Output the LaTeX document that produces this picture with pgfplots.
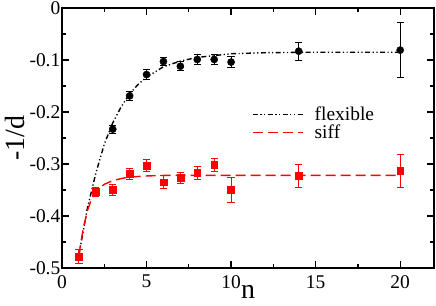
\documentclass[border=0pt]{standalone}
\usepackage{fontspec}
\setmainfont{Liberation Serif}
\usepackage{pgfplots}
\pgfplotsset{compat=1.18}
\begin{document}
\begin{tikzpicture}
\begin{axis}[
  scale only axis, width=372bp, height=260bp,
  xmin=0, xmax=22, ymin=-0.5, ymax=0,
  xtick={0,5,10,15,20}, minor x tick num=1,
  ytick={-0.5,-0.4,-0.3,-0.2,-0.1,0}, minor y tick num=1,
  tick align=inside, major tick length=7bp, minor tick length=4bp,
  axis line style={line width=1.5bp},
  tick style={black, line width=1.2bp},
  /pgf/number format/assume math mode=true,
  ticklabel style={font=\fontsize{19.5}{22}\selectfont},
  yticklabel style={inner sep=1.5bp},
  xticklabel style={inner sep=0bp, anchor=north, yshift=-7bp},
  xlabel={n}, ylabel={-1/d},
  xlabel style={at={(axis description cs:0.5,-0.119)}, anchor=base, inner sep=0bp, font=\fontsize{28}{30}\selectfont},
  ylabel style={at={(axis description cs:-0.0995,0.5)}, anchor=base, font=\fontsize{28}{30}\selectfont},
  legend image code/.code={\draw[#1] (0bp,0bp) -- (50bp,0bp); \path (61bp,0bp);},
  legend style={at={(rel axis cs:0.511,0.617)}, anchor=north west, draw=none, fill=none, inner sep=0bp,
    font=\fontsize{19.5}{22}\selectfont, row sep=5bp,
    nodes={inner sep=0bp, text height=13bp, text depth=0bp}},
  legend cell align=left,
  clip=false,
]
\coordinate (bl) at (rel axis cs:0,0);
\coordinate (tr) at (rel axis cs:1,1);
% fitted curves
\addplot[black, line width=1.4bp, dash pattern=on 5bp off 2.5bp on 1.2bp off 2.5bp on 1.2bp off 2.5bp] coordinates {
 (1,-0.475) (1.5,-0.385) (2,-0.318) (2.5,-0.262) (3,-0.221) (3.5,-0.190) (4,-0.165)
 (4.5,-0.147) (5,-0.133) (6,-0.113) (7,-0.102) (8,-0.095) (10,-0.088) (12,-0.086) (15,-0.085) (20,-0.085)};
\addlegendentry{flexible}
\addplot[red, line width=1.4bp, dash pattern=on 10bp off 5bp] coordinates {
 (1,-0.475) (1.25,-0.425) (1.5,-0.390) (1.75,-0.367) (2,-0.352) (2.5,-0.339) (3,-0.332)
 (3.5,-0.328) (4,-0.325) (5,-0.323) (6,-0.322) (10,-0.322) (20,-0.322)};
\addlegendentry{siff}
% data
\addplot[forget plot, black, only marks, mark=*, mark size=3.6bp,
  error bars/.cd, y dir=both, y explicit,
  error bar style={line width=1bp, black},
  error mark options={rotate=90, mark size=3.6bp, line width=1bp, black}]
 table[x=n, y=y, y error=e] {
 n y e
 3 -0.233 0.008
 4 -0.169 0.008
 5 -0.128 0.009
 6 -0.103 0.008
 7 -0.112 0.009
 8 -0.099 0.010
 9 -0.099 0.010
 10 -0.104 0.010
 14 -0.083 0.017
 20 -0.081 0.053
 };
\addplot[forget plot, red, only marks, mark=square*, mark size=3.4bp,
  error bars/.cd, y dir=both, y explicit,
  error bar style={line width=1bp, red},
  error mark options={rotate=90, mark size=3.6bp, line width=1bp, red}]
 table[x=n, y=y, y error=e] {
 n y e
 1 -0.478 0.014
 2 -0.354 0.008
 3 -0.350 0.010
 4 -0.319 0.011
 5 -0.303 0.011
 6 -0.335 0.013
 7 -0.327 0.011
 8 -0.317 0.012
 9 -0.302 0.012
 10 -0.350 0.024
 14 -0.323 0.023
 20 -0.313 0.032
 };
\end{axis}
\pgfresetboundingbox
\path ([shift={(-62bp,-38bp)}]bl) rectangle ([shift={(2bp,8bp)}]tr);
\end{tikzpicture}
\end{document}
